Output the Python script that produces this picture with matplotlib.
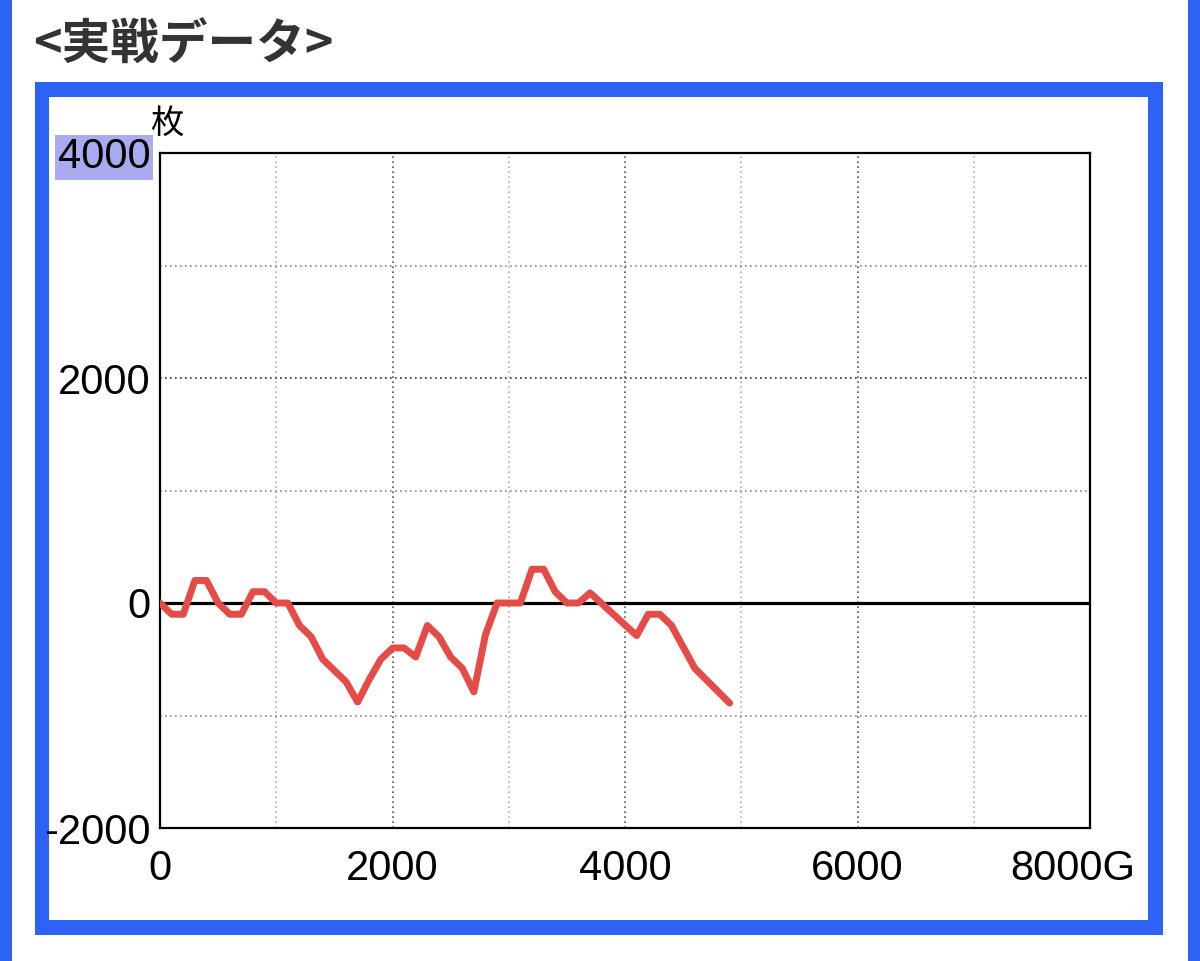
# encoding: UTF-8
import matplotlib
matplotlib.use("Agg")
import matplotlib.pyplot as plt
from matplotlib.patches import Rectangle
from matplotlib.transforms import ScaledTranslation

# 実戦データ (G数, 差枚)
games = [0, 100, 200, 300, 400, 500, 600, 700, 800, 900, 1000, 1100, 1200,
         1300, 1400, 1600, 1700, 1800, 1900, 2000, 2100, 2200, 2300, 2400,
         2500, 2600, 2700, 2800, 2900, 3100, 3200, 3300, 3400, 3500, 3600,
         3700, 4100, 4200, 4300, 4400, 4600, 4900]
medals = [0, -100, -100, 200, 200, 0, -100, -100, 100, 100, 0, 0, -200,
          -300, -500, -700, -880, -680, -500, -400, -400, -480, -200, -300,
          -480, -580, -790, -280, 0, 0, 300, 300, 100, 0, 0,
          90, -290, -100, -100, -200, -580, -890]

x_ticks = [0, 2000, 4000, 6000, 8000]
x_labels = ["0", "2000", "4000", "6000", "8000G"]
y_ticks = [-2000, 0, 2000, 4000]
y_labels = ["-2000", "0", "2000", "4000"]

BLUE = "#2d63f5"
RED = "#e64c47"
W, H = 1200, 961

fig = plt.figure(figsize=(12, 9.61), dpi=100)


def px_rect(x0, y0, x1, y1, color):
    # 画素座標 (左上原点) で矩形を描く
    fig.patches.append(Rectangle((x0 / W, 1 - y1 / H), (x1 - x0) / W, (y1 - y0) / H,
                                 transform=fig.transFigure, facecolor=color,
                                 edgecolor="none", zorder=-5))


px_rect(0, 0, 12, H, BLUE)
px_rect(1188, 0, W, H, BLUE)
px_rect(35, 82, 1163, 935, BLUE)
px_rect(49, 97, 1148, 920, "white")

fig.text(33 / W, 1 - 45 / H, "<実戦データ>", fontsize=35, fontweight="bold",
         color="#333333", va="center", ha="left",
         family=["Noto Sans CJK JP", "DejaVu Sans"])

ax = fig.add_axes([160 / W, 1 - 828 / H, 930 / W, 675 / H])
ax.set_xlim(0, 8000)
ax.set_ylim(-2000, 4000)

# グリッド
for gx in range(1000, 8000, 1000):
    c = "#555555" if gx % 2000 == 0 else "#b0b0b0"
    ax.axvline(gx, color=c, linestyle=(0, (1, 2)), linewidth=1.2, zorder=1)
for gy in [-1000, 1000, 2000, 3000]:
    c = "#333333" if gy % 2000 == 0 else "#888888"
    ax.axhline(gy, color=c, linestyle=(0, (1, 2)), linewidth=1.2, zorder=1)
ax.axhline(0, color="black", linewidth=2.3, zorder=2)

ax.plot(games, medals, color=RED, linewidth=5, solid_joinstyle="round",
        solid_capstyle="round", zorder=3)

ax.set_xticks(x_ticks)
ax.set_xticklabels(x_labels)
ax.set_yticks(y_ticks)
ax.set_yticklabels(y_labels)
ax.tick_params(length=0, labelsize=30, colors="black")
ax.tick_params(axis="x", pad=15)
ax.tick_params(axis="y", pad=7)
for lab in ax.get_xticklabels() + ax.get_yticklabels():
    lab.set_family("Liberation Sans")

xl = ax.get_xticklabels()[-1]
xl.set_transform(xl.get_transform() + ScaledTranslation(-0.17, 0, fig.dpi_scale_trans))
yl = ax.get_yticklabels()[-1]
yl.set_bbox(dict(facecolor="#aaaaf0", edgecolor="none", pad=2))

for s in ax.spines.values():
    s.set_linewidth(1.6)
    s.set_color("black")

fig.text(150 / W, 1 - 123 / H, "枚", fontsize=24, color="black", va="center",
         ha="left", family=["Noto Sans CJK JP", "DejaVu Sans"])

fig.savefig("out.png", dpi=100, facecolor="white")
